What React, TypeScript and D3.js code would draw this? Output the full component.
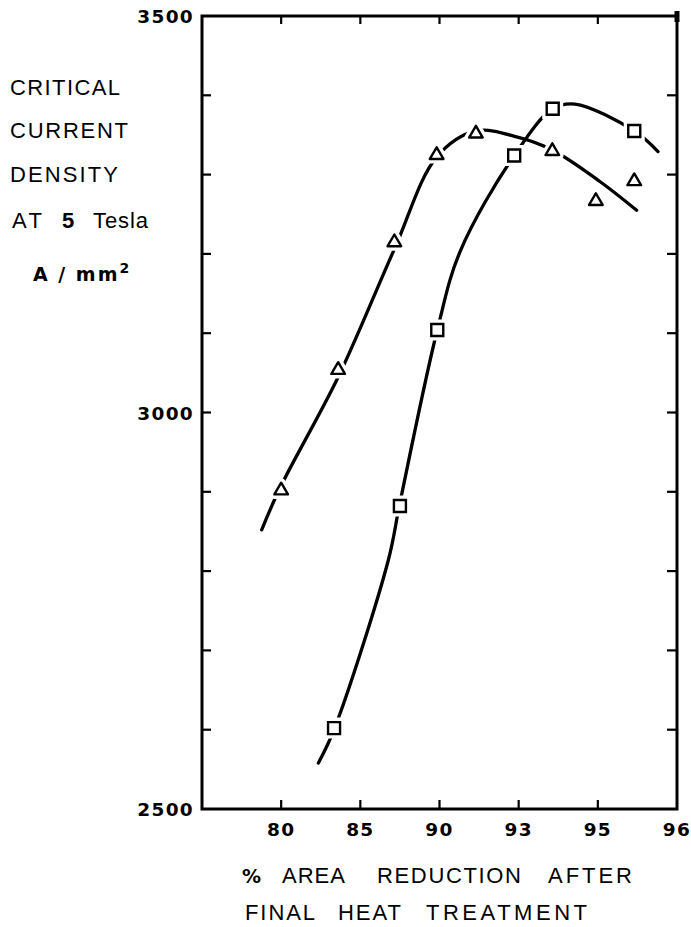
import React from "react";
import * as d3 from "d3";

// Axis breakpoints: the x axis is drawn with evenly spaced, non-uniform reduction steps
const xBreaks = [75, 80, 85, 90, 93, 95, 96];
const xTickValues = [80, 85, 90, 93, 95];
const xTickLabels = ["80", "85", "90", "93", "95", "96"];
const yTickLabels = [2500, 3000, 3500];
const yMinorTicks = [2600, 2700, 2800, 2900, 3000, 3100, 3200, 3300, 3400];

// Measured points (triangles)
const triangleX = [80, 83.6, 87.15, 89.82, 91.38, 93.85, 94.95, 95.46];
const triangleY = [2902, 3054, 3215, 3325, 3352, 3330, 3267, 3292];

// Measured points (squares)
const squareX = [83.34, 87.5, 89.86, 92.83, 93.86, 95.46];
const squareY = [2602, 2882, 3104, 3324, 3383, 3355];

// Hand-faired curve through the triangle series
const triangleFitX = [78.77, 79.93, 83.61, 87.15, 89.82, 91.38, 92.99, 93.85, 95.03, 95.49];
const triangleFitY = [2852, 2905, 3045, 3206, 3322, 3355, 3347, 3331, 3291, 3255];

// Hand-faired curve through the square series
const squareFitX = [82.35, 83.34, 86.77, 87.5, 89.86, 90.78, 92.83, 93.86, 94.42, 95.46, 95.76];
const squareFitY = [2558, 2600, 2814, 2886, 3104, 3203, 3324, 3383, 3389, 3355, 3329];

const W = 691;
const H = 927;
const left = 202;
const right = 677;
const top = 16;
const bottom = 809;

const x = d3
  .scaleLinear()
  .domain(xBreaks)
  .range(xBreaks.map((_, i) => left + (i * (right - left)) / (xBreaks.length - 1)));
const y = d3.scaleLinear().domain([2500, 3500]).range([bottom, top]);

const line = d3
  .line<[number, number]>()
  .x((d) => x(d[0]))
  .y((d) => y(d[1]))
  .curve(d3.curveCatmullRom.alpha(0.5));

const zip = (a: number[], b: number[]) => a.map((v, i) => [v, b[i]] as [number, number]);

const triPath = "M0,-7.5L6.8,4.2L-6.8,4.2Z";
const sqPath = "M-6,-6H6V6H-6Z";

const tickFont = "'DejaVu Sans', sans-serif";
const textFont = "'Liberation Sans', Arial, sans-serif";

// Word runs of the axis titles: [text, x, baseline, width]
const yTitleWords: [string, number, number, number][] = [
  ["CRITICAL", 10, 95, 110],
  ["CURRENT", 10, 138, 118],
  ["DENSITY", 10, 182, 108],
  ["AT", 12, 228, 30],
  ["Tesla", 93, 228, 55],
];
const xTitleWords: [string, number, number, number][] = [
  ["AREA", 282, 883, 63],
  ["REDUCTION", 377, 883, 144],
  ["AFTER", 548, 883, 84],
  ["FINAL", 245, 920, 70],
  ["HEAT", 338, 920, 63],
  ["TREATMENT", 426, 920, 161],
];

export default function App() {
  const triPts = zip(triangleX, triangleY);
  const sqPts = zip(squareX, squareY);
  return (
    <svg
      width={W}
      height={H}
      viewBox={`0 0 ${W} ${H}`}
      style={{ position: "absolute", left: 0, top: 0, background: "#fff" }}
    >
      <rect x={0} y={0} width={W} height={H} fill="#fff" />

      {/* Frame */}
      <rect
        x={left}
        y={top}
        width={right - left}
        height={bottom - top}
        fill="none"
        stroke="#000"
        strokeWidth={3}
      />
      <line x1={right} x2={right} y1={top - 5} y2={top + 6} stroke="#000" strokeWidth={5} />

      {/* Inward ticks */}
      {xTickValues.map((v) => (
        <g key={"xt" + v}>
          <line x1={x(v)} x2={x(v)} y1={top} y2={top + 8} stroke="#000" strokeWidth={2.2} />
          <line x1={x(v)} x2={x(v)} y1={bottom} y2={bottom - 9} stroke="#000" strokeWidth={2.2} />
        </g>
      ))}
      {yMinorTicks.map((v) => (
        <g key={"yt" + v}>
          <line x1={left} x2={left + 9} y1={y(v)} y2={y(v)} stroke="#000" strokeWidth={2.2} />
          <line x1={right} x2={right - 10} y1={y(v)} y2={y(v)} stroke="#000" strokeWidth={2.2} />
        </g>
      ))}

      {/* Tick labels */}
      {yTickLabels.map((v) => (
        <text
          key={"yl" + v}
          x={left - 8}
          y={y(v) + 7}
          textAnchor="end"
          fontFamily={tickFont}
          fontWeight="bold"
          fontSize={18.5}
          letterSpacing={1.3}
        >
          {v}
        </text>
      ))}
      {xTickLabels.map((t) => (
        <text
          key={"xl" + t}
          x={x(+t)}
          y={bottom + 27}
          textAnchor="middle"
          fontFamily={tickFont}
          fontWeight="bold"
          fontSize={18.5}
          letterSpacing={1.3}
        >
          {t}
        </text>
      ))}

      {/* Faired curves */}
      <path d={line(zip(triangleFitX, triangleFitY)) || ""} fill="none" stroke="#000" strokeWidth={3.3} strokeLinecap="round" />
      <path d={line(zip(squareFitX, squareFitY)) || ""} fill="none" stroke="#000" strokeWidth={3.3} strokeLinecap="round" />

      {/* Markers with a white surround so curves break at each point */}
      {triPts.map(([a, b], i) => (
        <g key={"t" + i} transform={`translate(${x(a)},${y(b)})`}>
          <path d={triPath} fill="#fff" stroke="#fff" strokeWidth={9} strokeLinejoin="round" />
          <path d={triPath} fill="#fff" stroke="#000" strokeWidth={2.4} strokeLinejoin="round" />
        </g>
      ))}
      {sqPts.map(([a, b], i) => (
        <g key={"s" + i} transform={`translate(${x(a)},${y(b)})`}>
          <path d={sqPath} fill="#fff" stroke="#fff" strokeWidth={9} />
          <path d={sqPath} fill="#fff" stroke="#000" strokeWidth={2.4} />
        </g>
      ))}

      {/* Y axis title */}
      <g fontFamily={textFont} fontSize={22}>
        {yTitleWords.map(([t, tx, ty, w]) => (
          <text key={t} x={tx} y={ty} textLength={w} lengthAdjust="spacing">
            {t}
          </text>
        ))}
        <text x={62} y={228} fontWeight="bold">5</text>
      </g>
      <text x={33} y={281} fontFamily={tickFont} fontWeight="bold" fontSize={19} letterSpacing={2}>
        A / mm
        <tspan dy={-8} fontSize={14}>2</tspan>
      </text>

      {/* X axis title */}
      <text x={242} y={883} fontFamily={tickFont} fontWeight="bold" fontSize={19}>%</text>
      <g fontFamily={textFont} fontSize={22}>
        {xTitleWords.map(([t, tx, ty, w]) => (
          <text key={t} x={tx} y={ty} textLength={w} lengthAdjust="spacing">
            {t}
          </text>
        ))}
      </g>
    </svg>
  );
}
